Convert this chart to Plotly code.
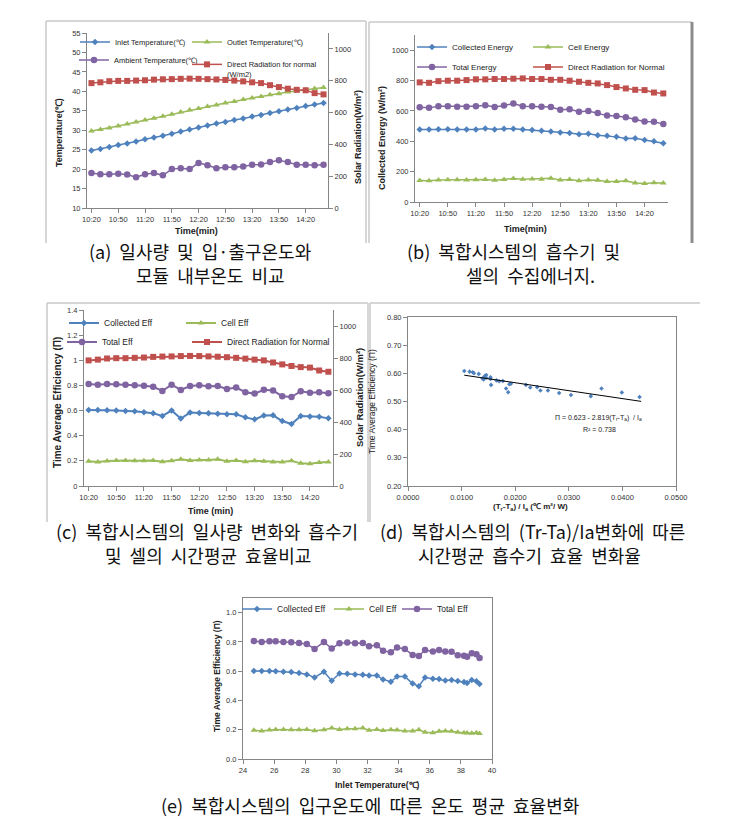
import plotly.graph_objects as go

# The page body has an 8px margin, so the figure is 8px smaller than the window
# and every page coordinate is shifted by 8px.
OFF = 8
W, H = 742 - OFF, 821 - OFF
FONT = "Arial, Liberation Sans, sans-serif"
KFONT = "Noto Sans CJK KR, sans-serif"

def px(x):
    return (x - OFF) / W

def py(y):
    return 1 - (y - OFF) / H

# ---------------- data ----------------
times = ["10:20", "10:30", "10:40", "10:50", "11:00", "11:10", "11:20", "11:30", "11:40",
         "11:50", "12:00", "12:10", "12:20", "12:30", "12:40", "12:50", "13:00", "13:10",
         "13:20", "13:30", "13:40", "13:50", "14:00", "14:10", "14:20", "14:30", "14:40"]
time_ticks = ["10:20", "10:50", "11:20", "11:50", "12:20", "12:50", "13:20", "13:50", "14:20"]

# (a) temperatures
inlet_temp = [24.8, 25.2, 25.7, 26.2, 26.6, 27.1, 27.7, 28.1, 28.6, 29.1, 29.7, 30.2, 30.7, 31.2,
              31.7, 32.1, 32.6, 33.0, 33.5, 33.9, 34.4, 34.9, 35.3, 35.7, 36.2, 36.6, 37.0]
outlet_temp = [29.8, 30.2, 30.6, 31.1, 31.6, 32.1, 32.6, 33.1, 33.6, 34.1, 34.7, 35.2, 35.6, 36.1,
               36.5, 37.0, 37.4, 37.9, 38.3, 38.7, 39.1, 39.4, 39.8, 40.1, 40.4, 40.7, 41.0]
ambient_temp = [19.0, 18.7, 18.7, 18.8, 18.6, 17.9, 18.7, 19.0, 18.4, 20.0, 20.2, 20.0, 21.6, 21.0,
                20.2, 20.5, 20.5, 20.7, 21.1, 21.2, 21.8, 22.3, 21.8, 21.1, 21.1, 21.0, 21.1]
direct_radiation = [785, 790, 797, 799, 799, 801, 803, 807, 809, 810, 812, 813, 812, 810,
                    808, 805, 801, 796, 790, 785, 772, 760, 750, 743, 740, 722, 714]

# (b) energies
collected_energy = [478, 478, 480, 480, 478, 478, 478, 484, 478, 483, 483, 478, 474, 469,
                    465, 458, 454, 447, 449, 440, 436, 429, 418, 420, 409, 400, 387]
cell_energy = [142, 140, 145, 146, 146, 145, 146, 148, 144, 148, 155, 150, 152, 150,
               156, 145, 148, 140, 145, 143, 135, 135, 140, 125, 122, 126, 125]
total_energy = [624, 620, 631, 631, 628, 628, 631, 637, 626, 635, 648, 631, 631, 628,
                626, 608, 611, 595, 600, 586, 569, 566, 558, 544, 531, 529, 513]
radiation_b = [788, 785, 796, 799, 799, 803, 808, 808, 810, 810, 812, 814, 810, 810,
               805, 805, 799, 792, 785, 781, 770, 757, 748, 739, 737, 721, 715]

# (c) efficiencies
collected_eff = [0.605, 0.605, 0.602, 0.600, 0.597, 0.595, 0.586, 0.578, 0.557, 0.600, 0.536, 0.584,
                 0.581, 0.578, 0.575, 0.570, 0.570, 0.546, 0.530, 0.560, 0.562, 0.517, 0.493, 0.557,
                 0.552, 0.550, 0.538]
cell_eff = [0.197, 0.190, 0.198, 0.203, 0.203, 0.200, 0.200, 0.203, 0.193, 0.200, 0.213, 0.203,
            0.207, 0.207, 0.213, 0.197, 0.203, 0.193, 0.200, 0.197, 0.190, 0.190, 0.200, 0.180,
            0.177, 0.187, 0.190]
total_eff = [0.812, 0.806, 0.812, 0.810, 0.806, 0.802, 0.797, 0.789, 0.756, 0.806, 0.764, 0.795,
             0.801, 0.793, 0.795, 0.772, 0.783, 0.746, 0.735, 0.765, 0.759, 0.714, 0.708, 0.754,
             0.741, 0.745, 0.738]

# (d) scatter vs (Tr-Ta)/Ia
d_x = [0.0105, 0.0115, 0.0121, 0.0123, 0.0132, 0.0139, 0.0141, 0.0143, 0.0146, 0.0146, 0.0154,
       0.0154, 0.0155, 0.0165, 0.0170, 0.0177, 0.0183, 0.0187, 0.0189, 0.0192, 0.0220, 0.0228,
       0.0241, 0.0247, 0.0261, 0.0282, 0.0304, 0.0341, 0.0361, 0.0399, 0.0432]
d_y = [0.608, 0.606, 0.604, 0.600, 0.598, 0.582, 0.578, 0.590, 0.594, 0.584, 0.586,
       0.580, 0.559, 0.575, 0.572, 0.573, 0.546, 0.533, 0.561, 0.563, 0.559, 0.550,
       0.551, 0.539, 0.539, 0.530, 0.523, 0.519, 0.546, 0.532, 0.516]
trend_intercept = 0.623
trend_slope = -2.819
trend_x = [0.0105, 0.0435]

# (e) efficiencies vs inlet temperature
e_inlet = [24.7, 25.2, 25.7, 26.1, 26.6, 27.1, 27.6, 28.1, 28.6, 29.2, 29.7, 30.2, 30.7, 31.2,
           31.7, 32.1, 32.6, 33.0, 33.5, 33.9, 34.4, 34.9, 35.3, 35.7, 36.2, 36.6, 37.0, 37.4,
           37.8, 38.2, 38.4, 38.7, 39.0, 39.2]
e_collected = [0.602, 0.602, 0.601, 0.599, 0.596, 0.594, 0.587, 0.578, 0.557, 0.596, 0.535, 0.584,
               0.582, 0.578, 0.575, 0.571, 0.570, 0.544, 0.528, 0.563, 0.563, 0.515, 0.497, 0.556,
               0.549, 0.546, 0.537, 0.540, 0.533, 0.526, 0.520, 0.540, 0.532, 0.512]
e_cell = [0.197, 0.192, 0.198, 0.201, 0.201, 0.200, 0.200, 0.202, 0.193, 0.200, 0.212, 0.202,
          0.206, 0.206, 0.212, 0.197, 0.202, 0.194, 0.199, 0.198, 0.191, 0.191, 0.199, 0.183,
          0.180, 0.190, 0.192, 0.190, 0.182, 0.180, 0.178, 0.176, 0.180, 0.175]
e_total = [0.806, 0.800, 0.804, 0.804, 0.800, 0.797, 0.792, 0.785, 0.752, 0.800, 0.755, 0.790,
           0.796, 0.790, 0.792, 0.770, 0.778, 0.740, 0.730, 0.762, 0.752, 0.710, 0.704, 0.745,
           0.735, 0.745, 0.735, 0.733, 0.709, 0.706, 0.698, 0.722, 0.716, 0.690]

BLUE = "#4F81BD"
GREEN = "#9BBB59"
PURPLE = "#8064A2"
RED = "#C0504D"
AX = "#868686"

fig = go.Figure()

def series(x, y, name, color, symbol, size, xa, ya, legend, showlegend=True, width=1.5):
    fig.add_trace(go.Scatter(
        x=x, y=y, name=name, mode="lines+markers", xaxis=xa, yaxis=ya,
        line=dict(color=color, width=width),
        marker=dict(symbol=symbol, size=size, color=color),
        legend=legend, showlegend=showlegend))

# (a)
series(times, inlet_temp, "Inlet Temperature(℃)", BLUE, "diamond", 5, "x", "y", "legend")
series(times, outlet_temp, "Outlet Temperature(℃)", GREEN, "triangle-up", 6, "x", "y", "legend2")
series(times, ambient_temp, "Ambient Temperature(℃)", PURPLE, "circle", 6.5, "x", "y", "legend3")
series(times, direct_radiation, "Direct Radiation for normal<br>(W/m2)", RED, "square", 6, "x", "y2", "legend4")
# (b)
series(times, collected_energy, "Collected Energy", BLUE, "diamond", 5, "x2", "y3", "legend5")
series(times, cell_energy, "Cell Energy", GREEN, "triangle-up", 6, "x2", "y3", "legend6")
series(times, total_energy, "Total Energy", PURPLE, "circle", 6.5, "x2", "y3", "legend7")
series(times, radiation_b, "Direct Radiation for Normal", RED, "square", 6, "x2", "y3", "legend8")
# (c)
series(times, collected_eff, "Collected Eff", BLUE, "diamond", 5, "x3", "y4", "legend9", width=2)
series(times, cell_eff, "Cell Eff", GREEN, "triangle-up", 6, "x3", "y4", "legend10", width=2)
series(times, total_eff, "Total Eff", PURPLE, "circle", 6.5, "x3", "y4", "legend11", width=2)
series(times, direct_radiation, "Direct Radiation for Normal", RED, "square", 6, "x3", "y5", "legend12", width=2)
# (d)
fig.add_trace(go.Scatter(x=d_x, y=d_y, mode="markers", xaxis="x4", yaxis="y6",
                         marker=dict(symbol="diamond", size=3.5, color=BLUE), showlegend=False))
fig.add_trace(go.Scatter(x=trend_x, y=[trend_intercept + trend_slope * v for v in trend_x],
                         mode="lines", xaxis="x4", yaxis="y6",
                         line=dict(color="#000000", width=1), showlegend=False))
# (e)
series(e_inlet, e_collected, "Collected Eff", BLUE, "diamond", 5, "x5", "y7", "legend13")
series(e_inlet, e_cell, "Cell Eff", GREEN, "triangle-up", 6, "x5", "y7", "legend14")
series(e_inlet, e_total, "Total Eff", PURPLE, "circle", 6.5, "x5", "y7", "legend15")

tickfont = dict(family=FONT, size=7.5, color="#333333")
common = dict(showline=True, linecolor=AX, linewidth=1, ticks="outside", ticklen=4,
              tickcolor=AX, showgrid=False, zeroline=False, tickfont=tickfont, automargin=False)

def cat_x(x0, x1, anchor):
    return dict(common, domain=[px(x0), px(x1)], anchor=anchor, type="category",
                categoryorder="array", categoryarray=times, tickmode="array",
                tickvals=time_ticks, ticktext=time_ticks, range=[-0.5, 26.5])

layout = dict(
    width=W, height=H, autosize=False,
    margin=dict(l=0, r=0, t=0, b=0, pad=0, autoexpand=False),
    paper_bgcolor="white", plot_bgcolor="rgba(0,0,0,0)",
    font=dict(family=FONT, color="#222222"),
    # (a)
    xaxis=cat_x(87, 328, "y"),
    yaxis=dict(common, domain=[py(208), py(33)], anchor="x", range=[10, 55], dtick=5),
    yaxis2=dict(common, overlaying="y", anchor="x", side="right", range=[0, 1100],
                tickvals=[0, 200, 400, 600, 800, 1000]),
    # (b)
    xaxis2=cat_x(415, 668, "y3"),
    yaxis3=dict(common, domain=[py(202), py(35)], anchor="x2", range=[0, 1100],
                tickvals=[0, 200, 400, 600, 800, 1000]),
    # (c)
    xaxis3=cat_x(84, 333, "y4"),
    yaxis4=dict(common, domain=[py(486), py(310)], anchor="x3", range=[0, 1.4], dtick=0.2),
    yaxis5=dict(common, overlaying="y4", anchor="x3", side="right", range=[0, 1100],
                tickvals=[0, 200, 400, 600, 800, 1000]),
    # (d)
    xaxis4=dict(common, domain=[px(408), px(676)], anchor="y6", range=[0, 0.05], dtick=0.01,
                tickformat=".4f", mirror=True),
    yaxis6=dict(common, domain=[py(486), py(317)], anchor="x4", range=[0.2, 0.8], dtick=0.1,
                tickformat=".2f", mirror=True),
    # (e)
    xaxis5=dict(common, domain=[px(243), px(492)], anchor="y7", range=[24, 40], dtick=2,
                mirror=True),
    yaxis7=dict(common, domain=[py(759), py(598)], anchor="x5", range=[0, 1.1],
                tickvals=[0, 0.2, 0.4, 0.6, 0.8, 1.0], tickformat=".1f", mirror=True),
)

# legends: (key, text start x, row y, font size)
legend_spec = [
    ("legend", 115, 42, 7.5), ("legend2", 227, 42, 7.5), ("legend3", 114, 60, 7.5), ("legend4", 227, 60, 7.5),
    ("legend5", 452, 47, 8), ("legend6", 568, 47, 8), ("legend7", 452, 67, 8), ("legend8", 568, 67, 8),
    ("legend9", 104, 323, 8.5), ("legend10", 221, 323, 8.5), ("legend11", 102, 342, 8.5), ("legend12", 227, 342, 8.5),
    ("legend13", 277, 609, 8.5), ("legend14", 369, 609, 8.5), ("legend15", 437, 609, 8.5),
]
for key, tx, ty, fs in legend_spec:
    if key == "legend4":
        layout[key] = dict(x=px(tx - 40), y=py(ty - 7), xanchor="left", yanchor="top",
                           valign="top", bgcolor="rgba(0,0,0,0)", tracegroupgap=0,
                           font=dict(family=FONT, size=fs, color="#222222"))
    else:
        layout[key] = dict(x=px(tx - 40), y=py(ty), xanchor="left", yanchor="middle",
                           bgcolor="rgba(0,0,0,0)", tracegroupgap=0,
                           font=dict(family=FONT, size=fs, color="#222222"))

fig.update_layout(**layout)

def ann(text, x, y, size, bold=False, angle=0, family=FONT, color="#222222"):
    fig.add_annotation(text=f"<b>{text}</b>" if bold else text, x=px(x), y=py(y),
                       xref="paper", yref="paper", showarrow=False, textangle=angle,
                       xanchor="center", yanchor="middle",
                       font=dict(size=size, family=family, color=color))

# axis titles
ann("Temperature(℃)", 59, 133, 9, True, -90)
ann("Solar Radiation(W/m²)", 358, 137, 9, True, -90)
ann("Time(min)", 196, 231, 9, True)
ann("Collected Energy (W/m²)", 382, 138, 9, True, -90)
ann("Time(min)", 525, 229, 9, True)
ann("Time Average Efficiency (Π)", 57, 403, 10, True, -90)
ann("Solar Radiation(W/m²)", 360, 398, 9.5, True, -90)
ann("Time (min)", 210, 511, 9, True)
ann("Time Average Efficiency (Π)", 372, 402, 8.5, False, -90)
ann("(T<sub>r</sub>-T<sub>a</sub>) / I<sub>a</sub> (℃ m²/ W)", 530, 507, 8, True)
ann("Π = 0.623 - 2.819(T<sub>r</sub>-T<sub>a</sub>)  / I<sub>a</sub>", 598, 418, 7)
ann("R² = 0.738", 599, 429, 7)
ann("Time Average Efficiency (Π)", 217, 676, 8.5, True, -90)
ann("Inlet Temperature(℃)", 377, 785, 8.5, True)

# captions
cap = 18
CC = "#111111"
S = "\u00a0" * 2
ann(f"(a){S}일사량{S}및{S}입·출구온도와", 200, 251, cap, family=KFONT, color=CC)
ann(f"모듈{S}내부온도{S}비교", 211, 275, cap, family=KFONT, color=CC)
ann(f"(b){S}복합시스템의{S}흡수기{S}및", 513, 251, cap, family=KFONT, color=CC)
ann(f"셀의{S}수집에너지.", 530, 275, cap, family=KFONT, color=CC)
ann(f"(c){S}복합시스템의{S}일사량{S}변화와{S}흡수기", 207, 530.5, cap, family=KFONT, color=CC)
ann(f"및{S}셀의{S}시간평균{S}효율비교", 208, 554.5, cap, family=KFONT, color=CC)
ann(f"(d){S}복합시스템의{S}(Tr-Ta)/Ia변화에{S}따른", 532, 530.5, cap, family=KFONT, color=CC)
ann(f"시간평균{S}흡수기{S}효율{S}변화율", 529, 554.5, cap, family=KFONT, color=CC)
ann(f"(e){S}복합시스템의{S}입구온도에{S}따른{S}온도{S}평균{S}효율변화", 370, 805, cap, family=KFONT, color=CC)

# panel frames
def line(x0, y0, x1, y1, color="#C8C8C8", width=1.5):
    fig.add_shape(type="line", xref="paper", yref="paper", x0=px(x0), y0=py(y0),
                  x1=px(x1), y1=py(y1), line=dict(color=color, width=width))

line(46, 21, 366, 21); line(46, 21, 46, 243); line(366, 21, 366, 243)
line(369, 22, 692, 22); line(369, 22, 369, 243); line(692, 22, 692, 243, "#8C8C8C", 3)
line(47, 303, 368, 303); line(47, 303, 47, 522); line(368, 303, 368, 522)
line(370, 303, 700, 303); line(370, 303, 370, 522)

fig.write_html("out.html")
